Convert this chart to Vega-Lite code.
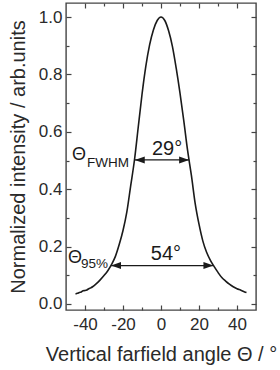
{
  "$schema": "https://vega.github.io/schema/vega-lite/v6.json",
  "width": 190,
  "height": 307,
  "autosize": {"type": "none"},
  "padding": {"left": 66, "top": 3, "right": 24, "bottom": 60},
  "background": "white",
  "config": {
    "font": "Liberation Sans",
    "view": {"stroke": "#444", "strokeWidth": 1.4},
    "axis": {
      "domain": false,
      "grid": false,
      "tickColor": "#444",
      "tickWidth": 1.2,
      "labelFont": "Liberation Sans",
      "labelFontSize": 17,
      "labelColor": "#2a2a2a",
      "titleFont": "Liberation Sans",
      "titleFontSize": 20,
      "titleFontWeight": "normal",
      "titleColor": "#2a2a2a"
    }
  },
  "datasets": {
    "profile": [
      {"angle": -45, "intensity": 0.035},
      {"angle": -44, "intensity": 0.037},
      {"angle": -43, "intensity": 0.040},
      {"angle": -42, "intensity": 0.042},
      {"angle": -41, "intensity": 0.046},
      {"angle": -40, "intensity": 0.047},
      {"angle": -39, "intensity": 0.049},
      {"angle": -38, "intensity": 0.053},
      {"angle": -37, "intensity": 0.056},
      {"angle": -36, "intensity": 0.060},
      {"angle": -34, "intensity": 0.071},
      {"angle": -32, "intensity": 0.084},
      {"angle": -30, "intensity": 0.099},
      {"angle": -28, "intensity": 0.116},
      {"angle": -26, "intensity": 0.138},
      {"angle": -24, "intensity": 0.166},
      {"angle": -22, "intensity": 0.207},
      {"angle": -20, "intensity": 0.256},
      {"angle": -18, "intensity": 0.320},
      {"angle": -16, "intensity": 0.410},
      {"angle": -14, "intensity": 0.500},
      {"angle": -12, "intensity": 0.615},
      {"angle": -10, "intensity": 0.730},
      {"angle": -8, "intensity": 0.828},
      {"angle": -6, "intensity": 0.903},
      {"angle": -4, "intensity": 0.955},
      {"angle": -2, "intensity": 0.988},
      {"angle": 0, "intensity": 1.0},
      {"angle": 2, "intensity": 0.988},
      {"angle": 4, "intensity": 0.952},
      {"angle": 6, "intensity": 0.898},
      {"angle": 8, "intensity": 0.822},
      {"angle": 10, "intensity": 0.735},
      {"angle": 12, "intensity": 0.638},
      {"angle": 14, "intensity": 0.535},
      {"angle": 16, "intensity": 0.448},
      {"angle": 18, "intensity": 0.350},
      {"angle": 20, "intensity": 0.278},
      {"angle": 22, "intensity": 0.220},
      {"angle": 24, "intensity": 0.180},
      {"angle": 26, "intensity": 0.152},
      {"angle": 28, "intensity": 0.130},
      {"angle": 30, "intensity": 0.110},
      {"angle": 32, "intensity": 0.092},
      {"angle": 34, "intensity": 0.080},
      {"angle": 36, "intensity": 0.069},
      {"angle": 38, "intensity": 0.060},
      {"angle": 40, "intensity": 0.053},
      {"angle": 42, "intensity": 0.048},
      {"angle": 44, "intensity": 0.042},
      {"angle": 45, "intensity": 0.040}
    ],
    "arrows": [
      {"name": "FWHM", "level": 0.502, "from": -13.8, "to": 14.8},
      {"name": "95%", "level": 0.134, "from": -26.3, "to": 27.6}
    ],
    "symbols": [
      {"label": "Θ", "angle": -46.8, "level": 0.502},
      {"label": "Θ", "angle": -48.9, "level": 0.143}
    ],
    "subscripts": [
      {"label": "FWHM", "angle": -38.9, "level": 0.477},
      {"label": "95%", "angle": -42.1, "level": 0.125}
    ],
    "widths": [
      {"label": "29°", "angle": 3.2, "level": 0.519},
      {"label": "54°", "angle": 2.6, "level": 0.153}
    ]
  },
  "resolve": {"axis": {"x": "independent", "y": "independent"}},
  "layer": [
    {
      "data": {"name": "profile"},
      "mark": {"type": "line", "color": "#1a1a1a", "strokeWidth": 1.6, "interpolate": "monotone"},
      "encoding": {
        "x": {
          "field": "angle", "type": "quantitative",
          "scale": {"domain": [-50, 50], "nice": false, "zero": false},
          "axis": {
            "orient": "bottom", "values": [-40, -20, 0, 20, 40], "tickSize": -5,
            "labelPadding": 11, "labelExpr": "datum.value + ''",
            "title": "Vertical farfield angle Θ / °", "titlePadding": 12
          }
        },
        "y": {
          "field": "intensity", "type": "quantitative",
          "scale": {"domain": [-0.021, 1.049], "nice": false, "zero": false},
          "axis": {
            "orient": "left", "values": [0, 0.2, 0.4, 0.6, 0.8, 1.0], "tickSize": -5,
            "labelPadding": 9, "labelExpr": "format(datum.value, '.1f')",
            "title": "Normalized intensity / arb.units", "titlePadding": 10
          }
        }
      }
    },
    {
      "data": {"name": "arrows"},
      "mark": {"type": "rule", "color": "#1a1a1a", "strokeWidth": 1.3},
      "encoding": {
        "x": {
          "field": "from", "type": "quantitative",
          "scale": {"domain": [-50, 50], "nice": false, "zero": false},
          "axis": {"orient": "bottom", "values": [-30, -10, 10, 30], "tickSize": -3, "labels": false, "title": null}
        },
        "x2": {"field": "to"},
        "y": {
          "field": "level", "type": "quantitative",
          "scale": {"domain": [-0.021, 1.049], "nice": false, "zero": false},
          "axis": {"orient": "left", "values": [0.1, 0.3, 0.5, 0.7, 0.9], "tickSize": -3, "labels": false, "title": null}
        }
      }
    },
    {
      "data": {"name": "arrows"},
      "mark": {"type": "point", "shape": "M0,0 L2,-0.7 L2,0.7 Z", "size": 100, "filled": true, "color": "#1a1a1a", "opacity": 1},
      "encoding": {
        "x": {
          "field": "from", "type": "quantitative",
          "scale": {"domain": [-50, 50], "nice": false, "zero": false},
          "axis": {"orient": "top", "values": [-40, -20, 0, 20, 40], "tickSize": -5, "labels": false, "title": null}
        },
        "y": {
          "field": "level", "type": "quantitative",
          "scale": {"domain": [-0.021, 1.049], "nice": false, "zero": false},
          "axis": {"orient": "right", "values": [0, 0.2, 0.4, 0.6, 0.8, 1.0], "tickSize": -5, "labels": false, "title": null}
        }
      }
    },
    {
      "data": {"name": "arrows"},
      "mark": {"type": "point", "shape": "M0,0 L-2,-0.7 L-2,0.7 Z", "size": 100, "filled": true, "color": "#1a1a1a", "opacity": 1},
      "encoding": {
        "x": {
          "field": "to", "type": "quantitative",
          "scale": {"domain": [-50, 50], "nice": false, "zero": false},
          "axis": {"orient": "top", "values": [-30, -10, 10, 30], "tickSize": -3, "labels": false, "title": null}
        },
        "y": {
          "field": "level", "type": "quantitative",
          "scale": {"domain": [-0.021, 1.049], "nice": false, "zero": false},
          "axis": {"orient": "right", "values": [0.1, 0.3, 0.5, 0.7, 0.9], "tickSize": -3, "labels": false, "title": null}
        }
      }
    },
    {
      "data": {"name": "symbols"},
      "mark": {"type": "text", "align": "left", "baseline": "alphabetic", "fontSize": 18, "color": "#1a1a1a", "font": "Liberation Sans"},
      "encoding": {
        "x": {"field": "angle", "type": "quantitative", "scale": {"domain": [-50, 50], "nice": false, "zero": false}, "axis": null},
        "y": {"field": "level", "type": "quantitative", "scale": {"domain": [-0.021, 1.049], "nice": false, "zero": false}, "axis": null},
        "text": {"field": "label"}
      }
    },
    {
      "data": {"name": "subscripts"},
      "mark": {"type": "text", "align": "left", "baseline": "alphabetic", "fontSize": 13.5, "color": "#1a1a1a", "font": "Liberation Sans"},
      "encoding": {
        "x": {"field": "angle", "type": "quantitative", "scale": {"domain": [-50, 50], "nice": false, "zero": false}, "axis": null},
        "y": {"field": "level", "type": "quantitative", "scale": {"domain": [-0.021, 1.049], "nice": false, "zero": false}, "axis": null},
        "text": {"field": "label"}
      }
    },
    {
      "data": {"name": "widths"},
      "mark": {"type": "text", "align": "center", "baseline": "alphabetic", "fontSize": 20, "color": "#1a1a1a", "font": "Liberation Sans"},
      "encoding": {
        "x": {"field": "angle", "type": "quantitative", "scale": {"domain": [-50, 50], "nice": false, "zero": false}, "axis": null},
        "y": {"field": "level", "type": "quantitative", "scale": {"domain": [-0.021, 1.049], "nice": false, "zero": false}, "axis": null},
        "text": {"field": "label"}
      }
    }
  ]
}
